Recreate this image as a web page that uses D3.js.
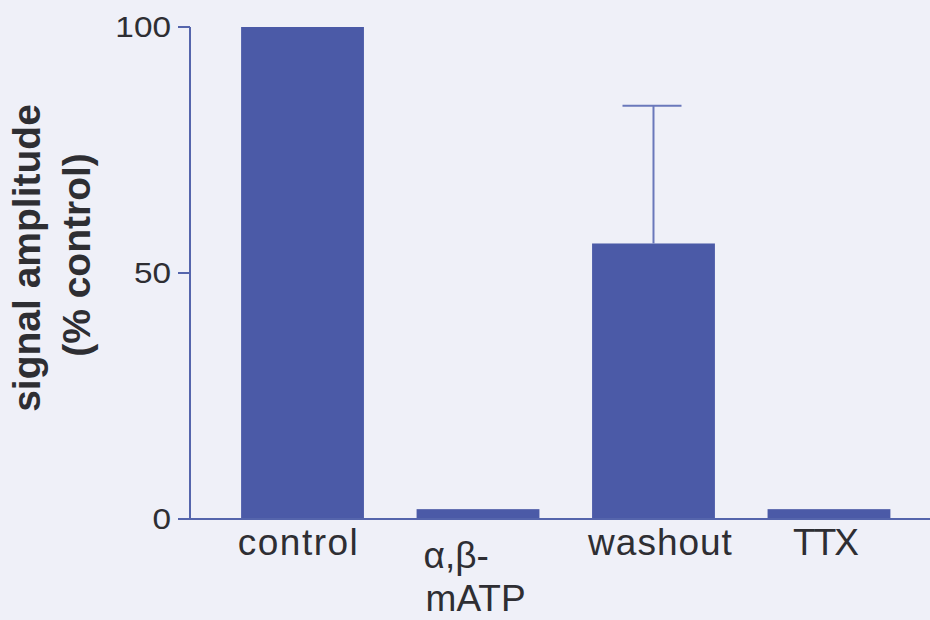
<!DOCTYPE html>
<html>
<head>
<meta charset="utf-8">
<script src="https://cdn.jsdelivr.net/npm/d3@7"></script>
<style>
  body { margin: 0; background: #eff0f8; }
  svg { display: block; }
</style>
</head>
<body>
<svg width="930" height="620"></svg>
<script>
const categories = ['control', 'α,β-mATP', 'washout', 'TTX'];
const labelLines = [['control'], ['α,β-', 'mATP'], ['washout'], ['TTX']];
const means = [100, 2, 56, 2];
const errors = [0, 0, 28, 0];
const yTicks = [0, 50, 100];

const barColor = '#4b5aa7';
const axisColor = '#5565ac';
const textColor = '#2e2e33';
const font = 'Liberation Sans, Arial, sans-serif';

const svg = d3.select('svg');

const x = d3.scaleBand()
  .domain(categories)
  .range([206, 925.5])
  .paddingInner(0.3)
  .paddingOuter(0.2);

const y = d3.scaleLinear()
  .domain([0, 100])
  .range([519, 27]);

const axisX = 190;
const tickLen = 12;

// bars
svg.append('g').selectAll('rect')
  .data(categories)
  .join('rect')
  .attr('x', d => x(d))
  .attr('width', x.bandwidth())
  .attr('y', (d, i) => y(means[i]))
  .attr('height', (d, i) => y(0) - y(means[i]))
  .attr('fill', barColor);

// error bars, upper half only
const err = svg.append('g')
  .attr('stroke', '#6a78bb')
  .attr('stroke-width', 2);
categories.forEach((c, i) => {
  if (!errors[i]) return;
  const cx = x(c) + x.bandwidth() / 2;
  const top = y(means[i] + errors[i]);
  err.append('line')
    .attr('x1', cx).attr('x2', cx)
    .attr('y1', y(means[i])).attr('y2', top);
  err.append('line')
    .attr('x1', cx - 31).attr('x2', cx + 28)
    .attr('y1', top).attr('y2', top);
});

// y axis
const yAxis = svg.append('g');
yAxis.append('line')
  .attr('x1', axisX).attr('x2', axisX)
  .attr('y1', y(100)).attr('y2', y(0))
  .attr('stroke', axisColor).attr('stroke-width', 2);
yAxis.selectAll('line.tick')
  .data(yTicks)
  .join('line')
  .attr('class', 'tick')
  .attr('x1', axisX - tickLen).attr('x2', axisX)
  .attr('y1', d => y(d)).attr('y2', d => y(d))
  .attr('stroke', axisColor).attr('stroke-width', 2);
yAxis.selectAll('text')
  .data(yTicks)
  .join('text')
  .attr('transform', d => 'translate(' + (axisX - tickLen - 7) + ',' + y(d) + ') scale(1.15,1)')
  .attr('dy', '0.34em')
  .attr('text-anchor', 'end')
  .attr('font-family', font)
  .attr('font-size', 29)
  .attr('fill', textColor)
  .text(d => d);

// baseline
svg.append('line')
  .attr('x1', axisX - tickLen).attr('x2', 930)
  .attr('y1', y(0)).attr('y2', y(0))
  .attr('stroke', axisColor).attr('stroke-width', 2);

// x labels
const shifts = {control: -4, washout: 7, TTX: -4};
const spacing = {control: 1.5, washout: 1, TTX: -2};
const xl = svg.append('g')
  .attr('font-family', font)
  .attr('font-size', 37)
  .attr('fill', textColor);
categories.forEach((c, i) => {
  const lines = labelLines[i];
  const t = xl.append('text');
  let tx;
  if (lines.length > 1) {
    tx = x(c) + 7;
    t.attr('text-anchor', 'start');
  } else {
    tx = x(c) + x.bandwidth() / 2 + (shifts[c] || 0);
    t.attr('text-anchor', 'middle').attr('letter-spacing', spacing[c] || 0);
  }
  lines.forEach((ln, j) => {
    t.append('tspan')
      .attr('x', tx + (j ? 2 : 0))
      .attr('y', lines.length > 1 ? 568 + j * 43 : 555)
      .text(ln);
  });
});

// y label
const yl = svg.append('text')
  .attr('transform', 'translate(0, 258) rotate(-90)')
  .attr('text-anchor', 'middle')
  .attr('font-family', font)
  .attr('font-weight', 'bold')
  .attr('font-size', 39)
  .attr('fill', textColor);
yl.append('tspan').attr('x', 0).attr('y', 40).text('signal amplitude');
yl.append('tspan').attr('x', 3).attr('y', 90).text('(% control)');
</script>
</body>
</html>
